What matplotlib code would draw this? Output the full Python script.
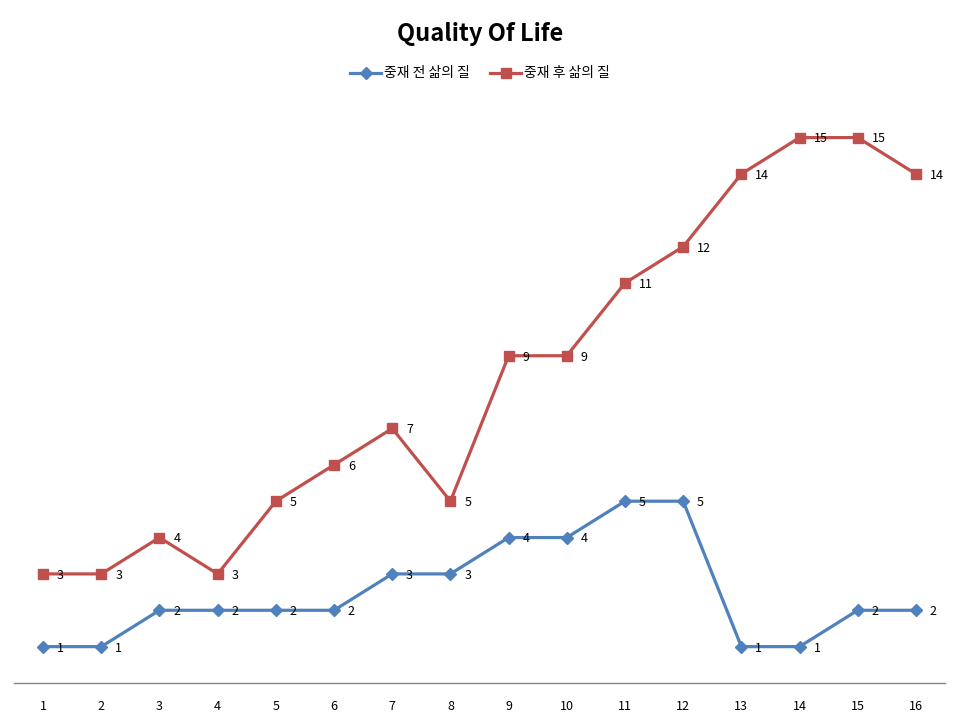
import matplotlib
matplotlib.use("Agg")
import matplotlib.pyplot as plt

plt.rcParams['font.family'] = ['Noto Sans CJK KR', 'DejaVu Sans']

categories = list(range(1, 17))
before = [1, 1, 2, 2, 2, 2, 3, 3, 4, 4, 5, 5, 1, 1, 2, 2]
after = [3, 3, 4, 3, 5, 6, 7, 5, 9, 9, 11, 12, 14, 15, 15, 14]
series_names = ['중재 전 삶의 질', '중재 후 삶의 질']

fig = plt.figure(figsize=(9.6, 7.2), dpi=100)
ax = fig.add_axes([0.0146, 0.0514, 0.9698, 0.808])

ax.plot(categories, before, color='#4F81BD', lw=2.3, marker='D', ms=6,
        label=series_names[0])
ax.plot(categories, after, color='#C0504D', lw=2.3, marker='s', ms=7,
        label=series_names[1])

for xs, ys in [(categories, before), (categories, after)]:
    for x, y in zip(xs, ys):
        ax.annotate(str(y), (x, y), xytext=(10, -1), textcoords='offset points',
                    ha='left', va='center', fontsize=9, color='#000000')

ax.set_xlim(0.5, 16.5)
ax.set_ylim(0, 16)
ax.set_xticks(categories)
ax.set_xticklabels([str(c) for c in categories], fontsize=9)
ax.set_yticks([])
ax.tick_params(axis='x', length=0, pad=12)
for s in ['top', 'right', 'left']:
    ax.spines[s].set_visible(False)
ax.spines['bottom'].set_color('#868686')
ax.spines['bottom'].set_linewidth(1)

fig.text(0.5, 0.953, 'Quality Of Life', ha='center', va='center',
         fontsize=17, fontweight='bold')
fig.legend(loc='center', bbox_to_anchor=(0.5, 0.898), ncol=2, frameon=False,
           fontsize=10, handlelength=2.2, columnspacing=1.5, handletextpad=0.2)

fig.savefig('out.png', dpi=100)
